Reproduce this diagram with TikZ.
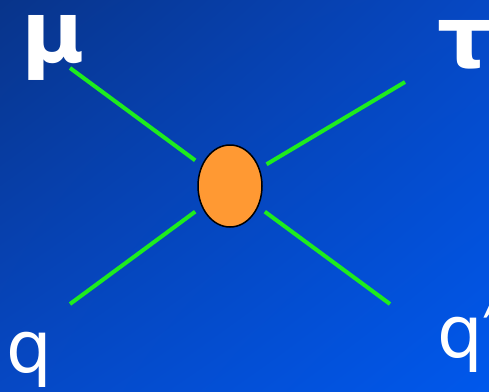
\documentclass[tikz,border=0pt]{standalone}
\usepackage{fontspec}
\setmainfont{DejaVu Sans}
\usetikzlibrary{shapes.geometric,shadings}
\definecolor{bgdark}{RGB}{8,52,138}
\definecolor{bgmid}{RGB}{6,72,196}
\definecolor{bglight}{RGB}{0,88,236}
\definecolor{legreen}{RGB}{30,236,30}
\definecolor{bloborange}{RGB}{255,153,51}

\begin{document}
\begin{tikzpicture}[x=1pt,y=-1pt,
    leg/.style={draw=legreen,line width=4pt,shorten >=8pt},
    greek/.style={text=white,inner sep=0pt,font=\bfseries\fontsize{86}{86}\selectfont},
    quark/.style={text=white,inner sep=0pt,font=\fontsize{72}{72}\selectfont}]
  \useasboundingbox (0,0) rectangle (489,391);
  \shade[upper left=bgdark,upper right=bgmid,lower left=bgmid,lower right=bglight]
    (0,0) rectangle (489,391);
  % vertex
  \node[ellipse,draw=black,line width=1.5pt,fill=bloborange,
        minimum width=64pt,minimum height=82pt,inner sep=0pt] (blob) at (230,186) {};
  % free ends of the legs
  \coordinate (muend) at (70,68);
  \coordinate (tauend) at (405,82);
  \coordinate (qend) at (70,304);
  \coordinate (qpend) at (390,304);
  \draw[leg] (muend) -- (blob);
  \draw[leg] (tauend) -- (blob);
  \draw[leg] (qend) -- (blob);
  \draw[leg] (qpend) -- (blob);
  % particle labels
  \node[greek] (mu) at (53,48) {μ};
  \node[greek] (tau) at (465,45) {τ};
  \node[quark] (q) at (29,360) {q};
  \node[quark,anchor=base west] (qp) at (437,357) {q′};
\end{tikzpicture}
\end{document}
